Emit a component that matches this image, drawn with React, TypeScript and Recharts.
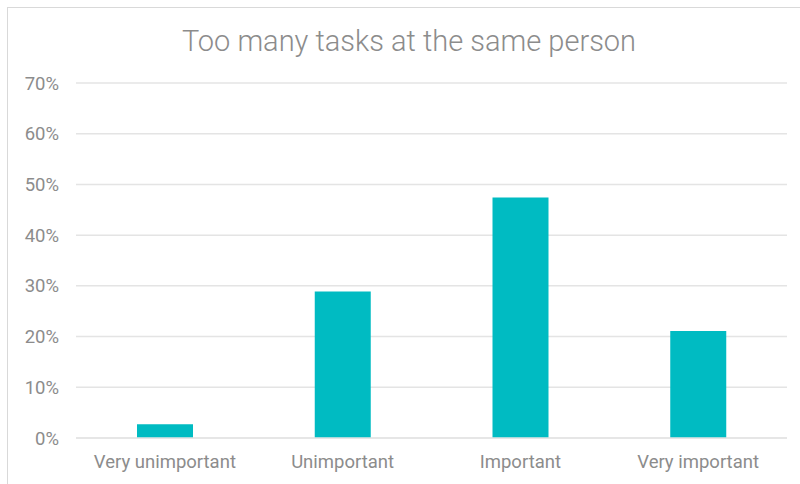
import { BarChart, Bar, XAxis, YAxis, CartesianGrid } from 'recharts'

const categories = ['Very unimportant', 'Unimportant', 'Important', 'Very important']
const shares = [2.7, 28.9, 47.4, 21.1]
const yTicks = [0, 10, 20, 30, 40, 50, 60, 70]

const data = categories.map((name, i) => ({ name, value: shares[i] }))

const FONT = 'Roboto, "Liberation Sans", sans-serif'
const TEXT = '#8c8c8c'

export default function App() {
  return (
    <div style={{
      position: 'fixed', left: 7, top: 7, width: 820, height: 500,
      border: '1px solid #d9d9d9', background: '#fff', overflow: 'hidden', fontFamily: FONT,
    }}>
      <div style={{
        position: 'absolute', left: 0, top: 16, width: 802, textAlign: 'center',
        fontSize: 29, color: TEXT, fontWeight: 300,
      }}>
        Too many tasks at the same person
      </div>
      <div style={{ position: 'absolute', left: 0, top: 0 }}>
        <BarChart width={792} height={476} data={data}
          margin={{ top: 75, right: 13, bottom: 0, left: 0 }}>
          <CartesianGrid vertical={false} stroke="#e4e4e4" strokeWidth={1.5} />
          <XAxis dataKey="name" axisLine={{ stroke: '#e4e4e4', strokeWidth: 1.5 }} tickLine={false}
            height={46} tickMargin={11}
            tick={{ fill: TEXT, fontSize: 18.5, fontFamily: FONT }} />
          <YAxis domain={[0, 70]} ticks={yTicks} width={68} axisLine={false} tickLine={false}
            tickSize={0} tickMargin={17} tickFormatter={(v: number) => `${v}%`}
            tick={{ fill: TEXT, fontSize: 18.5, fontFamily: FONT }} />
          <Bar dataKey="value" fill="#00bbc2" barSize={56} isAnimationActive={false} />
        </BarChart>
      </div>
    </div>
  )
}
